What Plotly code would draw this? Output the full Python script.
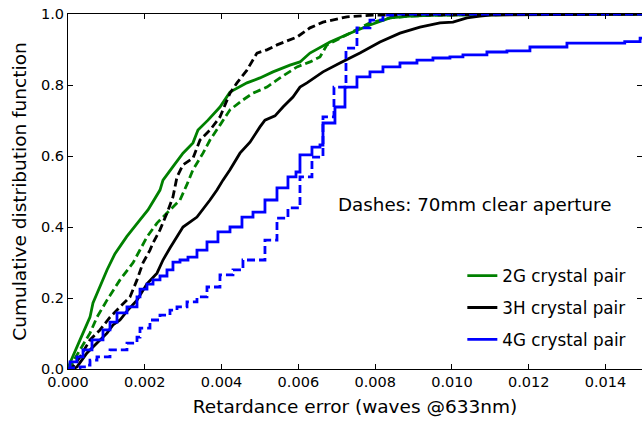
import plotly.graph_objects as go

# 2G crystal pair
g_x = [0, 0.000052, 0.000313, 0.000573, 0.000651, 0.000833, 0.001016, 0.001224, 0.001529, 0.001875,
       0.002083, 0.002396, 0.002474, 0.002734, 0.002995, 0.003255, 0.003385, 0.003646, 0.003958, 0.004219,
       0.004661, 0.005000, 0.005339, 0.005781, 0.006042, 0.006302, 0.006823, 0.007344, 0.007865, 0.008385,
       0.008906, 0.009609, 0.015]
g_y = [0, 0.017, 0.082, 0.146, 0.186, 0.231, 0.279, 0.325, 0.373, 0.420,
       0.448, 0.504, 0.532, 0.570, 0.608, 0.637, 0.673, 0.701, 0.738, 0.780,
       0.806, 0.820, 0.837, 0.856, 0.865, 0.890, 0.921, 0.946, 0.969, 0.989,
       0.994, 0.997, 1.0]
# 2G, 70mm aperture
gd_x = [0, 0.000052, 0.000313, 0.000573, 0.000755, 0.001016, 0.001354, 0.001693, 0.002057, 0.002318,
        0.002656, 0.002917, 0.003099, 0.003255, 0.003516, 0.003698, 0.003958, 0.004219, 0.004557, 0.004818,
        0.005182, 0.005521, 0.005964, 0.006302, 0.006563, 0.006745, 0.007344, 0.007865, 0.008385, 0.008906,
        0.0096, 0.015]
gd_y = [0, 0.006, 0.054, 0.101, 0.146, 0.194, 0.251, 0.299, 0.372, 0.411,
        0.448, 0.476, 0.520, 0.561, 0.608, 0.645, 0.687, 0.730, 0.758, 0.777,
        0.794, 0.820, 0.851, 0.865, 0.879, 0.913, 0.946, 0.975, 0.989, 0.994,
        0.997, 1.0]
# 3H crystal pair
h_x = [0, 0.000182, 0.000234, 0.000495, 0.000755, 0.001016, 0.001172, 0.001354, 0.001536, 0.001797,
       0.002057, 0.002318, 0.002474, 0.002656, 0.002995, 0.003359, 0.003698, 0.003880, 0.004036, 0.004219,
       0.004479, 0.004740, 0.005000, 0.005130, 0.005391, 0.005599, 0.005859, 0.006042, 0.006224, 0.006641,
       0.007083, 0.007604, 0.008125, 0.008646, 0.009167, 0.009688, 0.010026, 0.010391, 0.010729, 0.010990,
       0.015]
h_y = [0, 0.003, 0.006, 0.045, 0.073, 0.101, 0.124, 0.138, 0.163, 0.194,
       0.240, 0.270, 0.307, 0.341, 0.400, 0.428, 0.476, 0.504, 0.532, 0.561,
       0.608, 0.639, 0.682, 0.701, 0.713, 0.738, 0.766, 0.794, 0.806, 0.837,
       0.862, 0.890, 0.921, 0.946, 0.963, 0.975, 0.977, 0.989, 0.994, 0.997,
       1.0]
# 3H, 70mm aperture
hd_x = [0, 0.000104, 0.000313, 0.000573, 0.000833, 0.001094, 0.001354, 0.001615, 0.001797, 0.001953,
        0.002135, 0.002214, 0.002396, 0.002578, 0.002734, 0.002839, 0.002995, 0.003255, 0.003438, 0.003698,
        0.003958, 0.004219, 0.004401, 0.004661, 0.004922, 0.005182, 0.005443, 0.005964, 0.006302, 0.006641,
        0.007266, 0.007943, 0.015]
hd_y = [0, 0.003, 0.034, 0.082, 0.110, 0.146, 0.175, 0.203, 0.251, 0.299,
        0.335, 0.355, 0.392, 0.439, 0.485, 0.541, 0.575, 0.594, 0.645, 0.673,
        0.710, 0.777, 0.806, 0.842, 0.890, 0.899, 0.913, 0.935, 0.961, 0.977,
        0.992, 0.997, 1.0]
# 4G crystal pair (step)
b_x = [0, 0.000052, 0.000234, 0.000391, 0.000625, 0.000911, 0.001094, 0.001276, 0.001536, 0.001797,
       0.001875, 0.002057, 0.002214, 0.002396, 0.002578, 0.002734, 0.002917, 0.003125, 0.003359, 0.003620,
       0.003906, 0.004219, 0.004531, 0.004818, 0.005130, 0.005443, 0.005729, 0.005938, 0.006042, 0.006354,
       0.006563, 0.006641, 0.006953, 0.007214, 0.007526, 0.007865, 0.008203, 0.008646, 0.009089, 0.009505,
       0.009948, 0.010286, 0.010911, 0.011432, 0.012031, 0.012995, 0.014500, 0.014900, 0.015]
b_y = [0, 0.020, 0.034, 0.054, 0.082, 0.110, 0.132, 0.158, 0.175, 0.203,
       0.225, 0.239, 0.251, 0.262, 0.279, 0.301, 0.307, 0.315, 0.335, 0.358,
       0.386, 0.400, 0.428, 0.442, 0.476, 0.510, 0.541, 0.555, 0.603, 0.625,
       0.631, 0.693, 0.738, 0.794, 0.823, 0.837, 0.851, 0.862, 0.870, 0.876,
       0.879, 0.885, 0.893, 0.896, 0.907, 0.918, 0.922, 0.932, 0.932]
# 4G, 70mm aperture (step)
bd_x = [0, 0.000052, 0.000313, 0.000495, 0.000573, 0.000755, 0.001094, 0.001536, 0.001797, 0.001875,
        0.002135, 0.002396, 0.002656, 0.002839, 0.003099, 0.003359, 0.003620, 0.003958, 0.004297, 0.004557,
        0.005130, 0.005443, 0.005729, 0.006042, 0.006354, 0.006641, 0.006927, 0.007240, 0.007526, 0.007865,
        0.008203, 0.0085, 0.015]
bd_y = [0, 0.003, 0.006, 0.011, 0.025, 0.034, 0.054, 0.073, 0.090, 0.115,
        0.138, 0.152, 0.166, 0.175, 0.189, 0.203, 0.231, 0.265, 0.279, 0.307,
        0.363, 0.425, 0.454, 0.541, 0.597, 0.710, 0.794, 0.904, 0.961, 0.983,
        0.997, 1.0, 1.0]

x_ticks = [0.000, 0.002, 0.004, 0.006, 0.008, 0.010, 0.012, 0.014]
y_ticks = [0.0, 0.2, 0.4, 0.6, 0.8, 1.0]

GREEN = "#008000"
BLACK = "#000000"
BLUE = "#0000ff"
LW = 2.8
DASH = "8px,4px"

fig = go.Figure()
fig.add_trace(go.Scatter(x=g_x, y=g_y, mode="lines", line=dict(color=GREEN, width=LW),
                         name="2G crystal pair", legendgroup="g"))
fig.add_trace(go.Scatter(x=gd_x, y=gd_y, mode="lines", line=dict(color=GREEN, width=LW, dash=DASH),
                         showlegend=False))
fig.add_trace(go.Scatter(x=h_x, y=h_y, mode="lines", line=dict(color=BLACK, width=LW),
                         name="3H crystal pair", legendgroup="h"))
fig.add_trace(go.Scatter(x=hd_x, y=hd_y, mode="lines", line=dict(color=BLACK, width=LW, dash=DASH),
                         showlegend=False))
fig.add_trace(go.Scatter(x=b_x, y=b_y, mode="lines", line=dict(color=BLUE, width=LW, shape="hv"),
                         name="4G crystal pair", legendgroup="b"))
fig.add_trace(go.Scatter(x=bd_x, y=bd_y, mode="lines", line=dict(color=BLUE, width=LW, shape="hv", dash=DASH),
                         showlegend=False))
# invisible trace to carry right-side ticks
fig.add_trace(go.Scatter(x=[0], y=[0], yaxis="y2", mode="lines", line=dict(width=0),
                         showlegend=False, hoverinfo="skip"))

FONT = "DejaVu Sans"
fig.update_layout(
    width=642, height=424,
    margin=dict(l=68, r=0, t=14, b=55),
    paper_bgcolor="white", plot_bgcolor="white",
    font=dict(family=FONT, color="black", size=14.5),
    showlegend=True,
    legend=dict(x=0.687, y=0.312, xanchor="left", yanchor="top",
                font=dict(size=16.8, family=FONT), bgcolor="rgba(255,255,255,0)",
                tracegroupgap=7, itemwidth=30),
    xaxis=dict(range=[0, 0.01495], tickvals=x_ticks, ticktext=[f"{v:.3f}" for v in x_ticks],
               ticks="inside", ticklen=5, tickcolor="black", showline=True, linecolor="black",
               linewidth=1, mirror="ticks", showgrid=False, zeroline=False,
               title=dict(text="Retardance error (waves @633nm)", font=dict(size=18.5), standoff=10)),
    yaxis=dict(range=[0, 1.0], tickvals=y_ticks, ticktext=[f"{v:.1f}" for v in y_ticks],
               ticks="inside", ticklen=5, tickcolor="black", showline=True, linecolor="black",
               linewidth=1, showgrid=False, zeroline=False,
               title=dict(text="Cumulative distribution function", font=dict(size=18.5), standoff=9)),
    yaxis2=dict(range=[0, 1.0], overlaying="y", side="right", tickvals=y_ticks,
                ticks="inside", ticklen=5, tickcolor="black", showticklabels=False,
                showline=False, showgrid=False, zeroline=False),
    annotations=[dict(text="Dashes: 70mm clear aperture", x=0.467, y=0.462, xref="paper", yref="paper",
                      xanchor="left", yanchor="middle", showarrow=False, font=dict(size=18.3, family=FONT))],
)

fig.write_html("out.html")
